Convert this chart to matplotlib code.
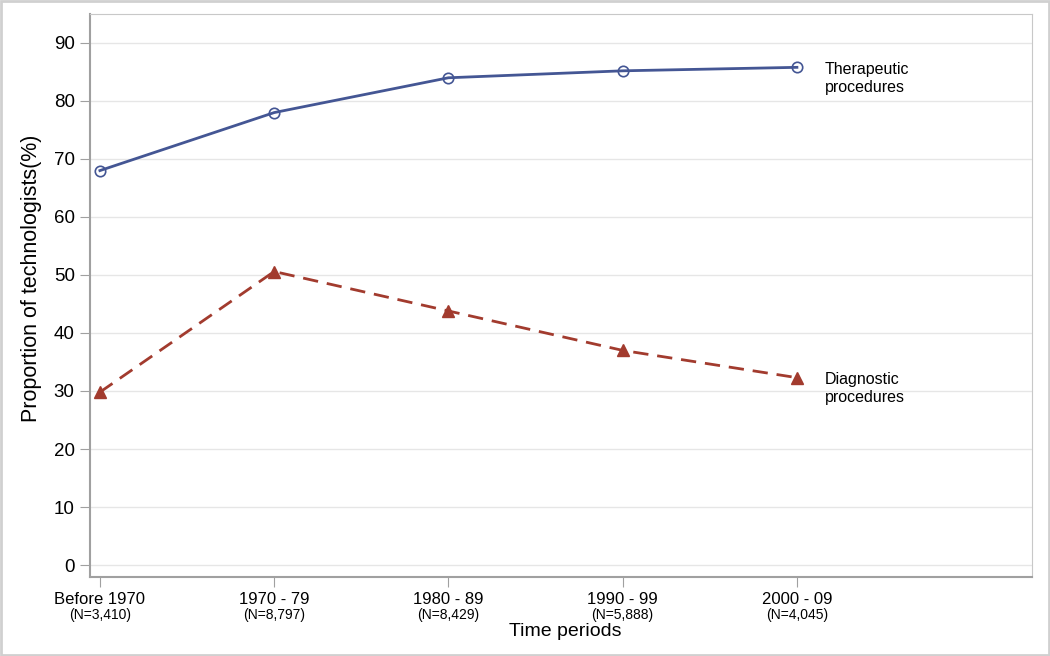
import matplotlib
matplotlib.use('Agg')
import matplotlib.pyplot as plt
from matplotlib.patches import Rectangle

# data
periods = ['Before 1970', '1970 - 79', '1980 - 89', '1990 - 99', '2000 - 09']
counts = ['(N=3,410)', '(N=8,797)', '(N=8,429)', '(N=5,888)', '(N=4,045)']
therapeutic = [68.0, 78.0, 84.0, 85.2, 85.8]
diagnostic = [29.8, 50.6, 43.8, 37.0, 32.3]

blue = '#445694'
red = '#A23B2E'

plt.rcParams['font.family'] = ['Liberation Sans', 'DejaVu Sans']

fig = plt.figure(figsize=(10.5, 6.56), dpi=100)
ax = fig.add_axes([0.0857, 0.1204, 0.8973, 0.8583])

x = list(range(len(periods)))
ax.plot(x, therapeutic, color=blue, lw=2.0, marker='o', ms=7.5,
        mfc='none', mec=blue, mew=1.2, zorder=3)
ax.plot(x, diagnostic, color=red, lw=2.0, ls=(0, (5.5, 3.2)), marker='^', ms=8,
        mfc=red, mec=red, zorder=3)

ax.set_xlim(-0.057, 5.35)
ax.set_ylim(-2.07, 95)
ax.set_yticks(range(0, 91, 10))
ax.set_xticks(x)
ax.set_xticklabels(periods, fontsize=12)
ax.tick_params(axis='x', length=7, color='#A0A0A0', pad=4)
ax.tick_params(axis='y', length=7, color='#A0A0A0', labelsize=13.5, pad=4)

for i, n in enumerate(counts):
    ax.annotate(n, xy=(i, 0), xycoords=('data', 'axes fraction'),
                xytext=(0, -27), textcoords='offset points',
                ha='center', va='center', fontsize=10)

ax.grid(axis='y', color='#E6E6E6', lw=1)
ax.set_axisbelow(True)
for s in ax.spines.values():
    s.set_color('#C8C8C8')
ax.spines['left'].set_color('#A0A0A0')
ax.spines['bottom'].set_color('#A0A0A0')
ax.spines['left'].set_linewidth(1.5)
ax.spines['bottom'].set_linewidth(1.5)

ax.set_ylabel('Proportion of technologists(%)', fontsize=15.5)
ax.yaxis.set_label_coords(-0.051, 0.53)
ax.set_xlabel('Time periods', fontsize=14)
ax.xaxis.set_label_coords(0.504, -0.081)

ax.text(4.16, therapeutic[-1] + 0.9, 'Therapeutic\nprocedures', fontsize=11.5,
        va='top', ha='left', linespacing=1.25)
ax.text(4.16, diagnostic[-1] + 0.9, 'Diagnostic\nprocedures', fontsize=11.5,
        va='top', ha='left', linespacing=1.25)

fig.patches.append(Rectangle((0.001, 0.0015), 0.998, 0.997, transform=fig.transFigure,
                             fill=False, ec='#D0D0D0', lw=2))

fig.savefig('out.png', dpi=100)
